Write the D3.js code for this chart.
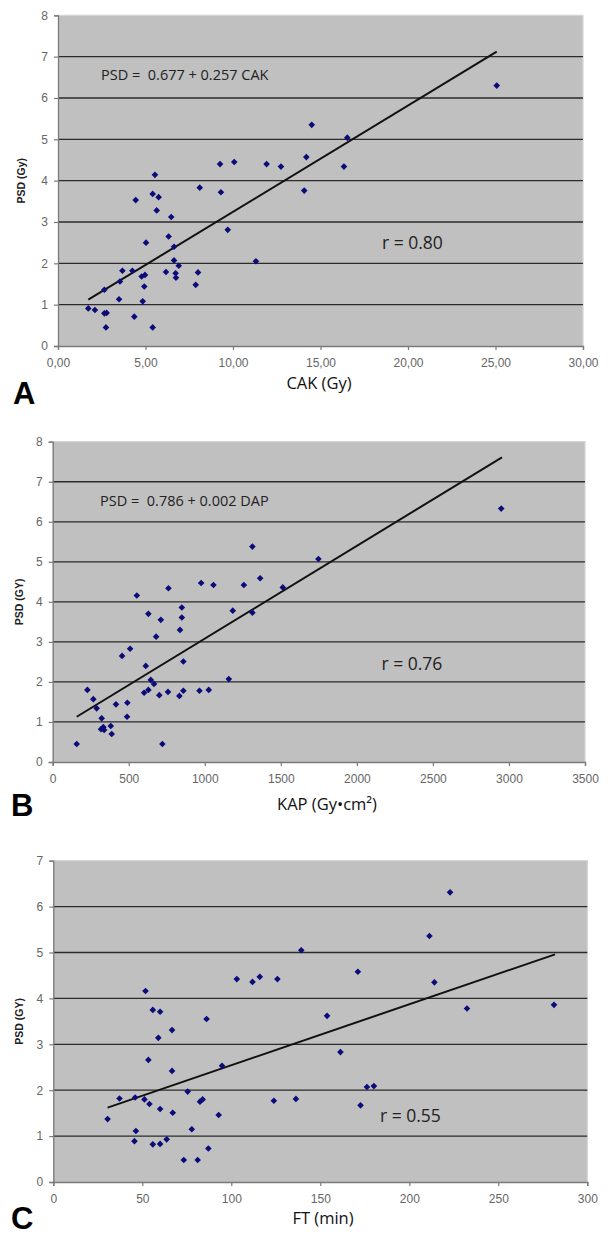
<!DOCTYPE html>
<html>
<head>
<meta charset="utf-8">
<script src="https://cdn.jsdelivr.net/npm/d3@7"></script>
<style>
  html, body { margin: 0; padding: 0; background: #ffffff; }
  svg { display: block; }
</style>
</head>
<body>
<svg id="chart" width="608" height="1237"></svg>
<script>
// ---------- Panel A: CAK (Gy) vs PSD (Gy) ----------
const cakValues = [1.73, 2.11, 2.65, 2.78, 2.74, 2.65, 3.49, 3.54, 3.68, 4.25, 4.36, 4.44, 4.78, 4.97, 4.93, 4.84, 5.03, 5.41, 5.41, 5.75, 5.64, 6.17, 6.32, 6.47, 6.63, 6.63, 6.72, 6.74, 6.90, 7.87, 8.00, 8.10, 9.31, 9.70, 11.31, 14.07, 5.54, 9.26, 10.07, 11.92, 12.74, 14.19, 14.50, 16.53, 16.34, 25.07];
const psdA      = [0.91, 0.87, 0.79, 0.80, 0.45, 1.36, 1.13, 1.56, 1.82, 1.82, 0.71, 3.53, 1.68, 1.72, 1.44, 1.08, 2.50, 3.68, 0.45, 3.60, 3.28, 1.79, 2.65, 3.12, 2.40, 2.07, 1.76, 1.65, 1.94, 1.48, 1.78, 3.83, 3.72, 2.81, 2.05, 3.76, 4.14, 4.40, 4.45, 4.40, 4.34, 4.57, 5.35, 5.04, 4.34, 6.30];
const trendA_x  = [1.73, 25.07];
const trendA_y  = [1.12, 7.12];
const ticksA_x  = [0, 5, 10, 15, 20, 25, 30];
const ticksA_y  = [0, 1, 2, 3, 4, 5, 6, 7, 8];

// ---------- Panel B: KAP (Gy·cm²) vs PSD (Gy) ----------
const kapValues = [158, 228, 267, 289, 322, 318, 333, 338, 382, 388, 416, 491, 489, 456, 509, 553, 612, 601, 629, 629, 645, 666, 680, 701, 711, 721, 758, 833, 837, 849, 849, 859, 859, 965, 1026, 1158, 1184, 1313, 761, 976, 1057, 1257, 1313, 1364, 1513, 1747, 2949];
const psdB      = [0.45, 1.80, 1.57, 1.34, 1.09, 0.82, 0.87, 0.80, 0.90, 0.70, 1.44, 1.48, 1.13, 2.65, 2.83, 4.16, 2.40, 1.73, 1.80, 3.70, 2.05, 1.95, 3.13, 1.67, 3.55, 0.45, 1.75, 1.65, 3.30, 3.86, 3.61, 2.51, 1.78, 1.78, 1.80, 2.07, 3.78, 3.73, 4.34, 4.47, 4.42, 4.42, 5.38, 4.59, 4.36, 5.07, 6.33];
const trendB_x  = [158, 2954];
const trendB_y  = [1.13, 7.61];
const ticksB_x  = [0, 500, 1000, 1500, 2000, 2500, 3000, 3500];
const ticksB_y  = [0, 1, 2, 3, 4, 5, 6, 7, 8];

// ---------- Panel C: FT (min) vs PSD (Gy) ----------
const ftValues = [30.5, 37.2, 46.0, 46.4, 45.6, 51.2, 54.0, 53.4, 55.9, 60.0, 59.0, 55.9, 60.0, 60.0, 63.7, 66.7, 66.7, 67.1, 73.3, 75.5, 77.8, 81.1, 82.4, 83.9, 86.1, 87.1, 92.9, 94.8, 123.9, 136.3, 51.8, 103.1, 111.9, 116.0, 125.9, 139.3, 153.8, 161.3, 171.1, 172.6, 176.2, 180.1, 211.3, 214.1, 222.9, 232.4, 281.3];
const psdC     = [1.37, 1.82, 1.84, 1.11, 0.89, 1.80, 1.70, 2.66, 3.75, 3.71, 3.14, 0.82, 0.83, 1.59, 0.93, 3.31, 2.42, 1.51, 0.48, 1.97, 1.15, 0.48, 1.75, 1.80, 3.55, 0.73, 1.46, 2.53, 1.77, 1.81, 4.16, 4.42, 4.36, 4.47, 4.42, 5.05, 3.62, 2.83, 4.58, 1.67, 2.07, 2.09, 5.36, 4.35, 6.31, 3.78, 3.86];
const trendC_x = [30.5, 281.9];
const trendC_y = [1.62, 4.96];
const ticksC_x = [0, 50, 100, 150, 200, 250, 300];
const ticksC_y = [0, 1, 2, 3, 4, 5, 6, 7];

const svg = d3.select("#chart");

function drawPanel(p) {
  const g = svg.append("g");
  const x = d3.scaleLinear().domain(p.xDomain).range([p.left, p.right]);
  const y = d3.scaleLinear().domain(p.yDomain).range([p.bottom, p.top]);

  // plot background
  g.append("rect")
    .attr("x", p.left).attr("y", p.top)
    .attr("width", p.right - p.left).attr("height", p.bottom - p.top)
    .attr("fill", "#c0c0c0");

  // top / right light border
  g.append("path")
    .attr("d", `M${p.left},${p.top}H${p.right}V${p.bottom}`)
    .attr("fill", "none").attr("stroke", "#d4d4d4").attr("stroke-width", 1.2);

  // gridlines
  g.append("g").selectAll("line")
    .data(p.yTicks.filter(v => v > p.yDomain[0] && v < p.yDomain[1]))
    .join("line")
    .attr("x1", p.left).attr("x2", p.right)
    .attr("y1", d => y(d)).attr("y2", d => y(d))
    .attr("stroke", "#2b2b2b").attr("stroke-width", 1.3);

  // axes
  const yAxis = d3.axisLeft(y).tickValues(p.yTicks).tickSize(4).tickPadding(6).tickFormat(d3.format("d"));
  const xAxis = d3.axisBottom(x).tickValues(p.xTicks).tickSize(4).tickPadding(8).tickFormat(p.xFormat);

  const ya = g.append("g").attr("transform", `translate(${p.left},0)`).call(yAxis);
  const xa = g.append("g").attr("transform", `translate(0,${p.bottom})`).call(xAxis);
  [ya, xa].forEach(a => {
    a.select(".domain").attr("stroke", "#7a7a7a").attr("stroke-width", 1.3);
    a.selectAll(".tick line").attr("stroke", "#7a7a7a").attr("stroke-width", 1.2);
    a.selectAll(".tick text")
      .attr("fill", "#666666")
      .attr("font-family", "Liberation Sans, Arial, sans-serif")
      .attr("font-size", 12);
  });

  // trend line
  const tl = d3.line().x(d => x(d[0])).y(d => y(d[1]));
  g.append("path")
    .datum(d3.zip(p.trendX, p.trendY))
    .attr("d", tl)
    .attr("fill", "none").attr("stroke", "#111111").attr("stroke-width", 2);

  // points (diamonds)
  const sym = d3.symbol().type(d3.symbolDiamond2).size(28);
  g.append("g").selectAll("path")
    .data(d3.zip(p.xs, p.ys))
    .join("path")
    .attr("transform", d => `translate(${x(d[0])},${y(d[1])})`)
    .attr("d", sym)
    .attr("fill", "#0b0b7a");

  // equation / r annotations
  if (p.equation) {
    g.append("text")
      .attr("x", p.eqX).attr("y", p.eqY)
      .attr("font-family", "Open Sans, sans-serif").attr("font-size", 14.5)
      .attr("fill", "#222222").attr("dominant-baseline", "middle")
      .style("white-space", "pre")
      .text(p.equation);
  }
  g.append("text")
    .attr("x", p.rX).attr("y", p.rY)
    .attr("font-family", "Open Sans, sans-serif").attr("font-size", 17.5)
    .attr("fill", "#222222").attr("dominant-baseline", "middle")
    .text(p.rText);

  // axis titles
  g.append("text")
    .attr("x", p.xTitleX).attr("y", p.xTitleY)
    .attr("text-anchor", "middle").attr("dominant-baseline", "middle")
    .attr("font-family", "Open Sans, sans-serif").attr("font-size", 16.5)
    .attr("fill", "#111111")
    .text(p.xTitle);

  g.append("text")
    .attr("transform", `translate(${p.yTitleX},${(p.top + p.bottom) / 2}) rotate(-90)`)
    .attr("text-anchor", "middle").attr("dominant-baseline", "middle")
    .attr("font-family", "Liberation Sans, Arial, sans-serif").attr("font-size", 10.5)
    .attr("font-weight", "bold").attr("fill", "#222222")
    .text(p.yTitle);

  // panel letter
  g.append("text")
    .attr("x", p.letterX).attr("y", p.letterY)
    .attr("font-family", "Liberation Sans, Arial, sans-serif").attr("font-size", 31)
    .attr("font-weight", "bold").attr("fill", "#000000")
    .text(p.letter);
}

const fmtComma = d => d3.format(".2f")(d).replace(".", ",");

drawPanel({
  xs: cakValues, ys: psdA, trendX: trendA_x, trendY: trendA_y,
  xDomain: [0, 30], yDomain: [0, 8], xTicks: ticksA_x, yTicks: ticksA_y,
  xFormat: fmtComma,
  left: 58, right: 583, top: 15.3, bottom: 346,
  equation: "PSD =  0.677 + 0.257 CAK", eqX: 101, eqY: 76,
  rText: "r = 0.80", rX: 382, rY: 244,
  xTitle: "CAK (Gy)", xTitleX: 319, xTitleY: 385,
  yTitle: "PSD (Gy)", yTitleX: 22,
  letter: "A", letterX: 13, letterY: 404
});

drawPanel({
  xs: kapValues, ys: psdB, trendX: trendB_x, trendY: trendB_y,
  xDomain: [0, 3500], yDomain: [0, 8], xTicks: ticksB_x, yTicks: ticksB_y,
  xFormat: d3.format("d"),
  left: 52.7, right: 585, top: 441.7, bottom: 762,
  equation: "PSD =  0.786 + 0.002 DAP", eqX: 100, eqY: 502,
  rText: "r = 0.76", rX: 381.5, rY: 665,
  xTitle: "KAP (Gy•cm²)", xTitleX: 327, xTitleY: 806,
  yTitle: "PSD (GY)", yTitleX: 20,
  letter: "B", letterX: 11, letterY: 816
});

drawPanel({
  xs: ftValues, ys: psdC, trendX: trendC_x, trendY: trendC_y,
  xDomain: [0, 300], yDomain: [0, 7], xTicks: ticksC_x, yTicks: ticksC_y,
  xFormat: d3.format("d"),
  left: 53.3, right: 587.3, top: 860.7, bottom: 1182,
  equation: null,
  rText: "r = 0.55", rX: 380, rY: 1117,
  xTitle: "FT (min)", xTitleX: 323, xTitleY: 1220,
  yTitle: "PSD (GY)", yTitleX: 20,
  letter: "C", letterX: 11, letterY: 1229
});
</script>
</body>
</html>
